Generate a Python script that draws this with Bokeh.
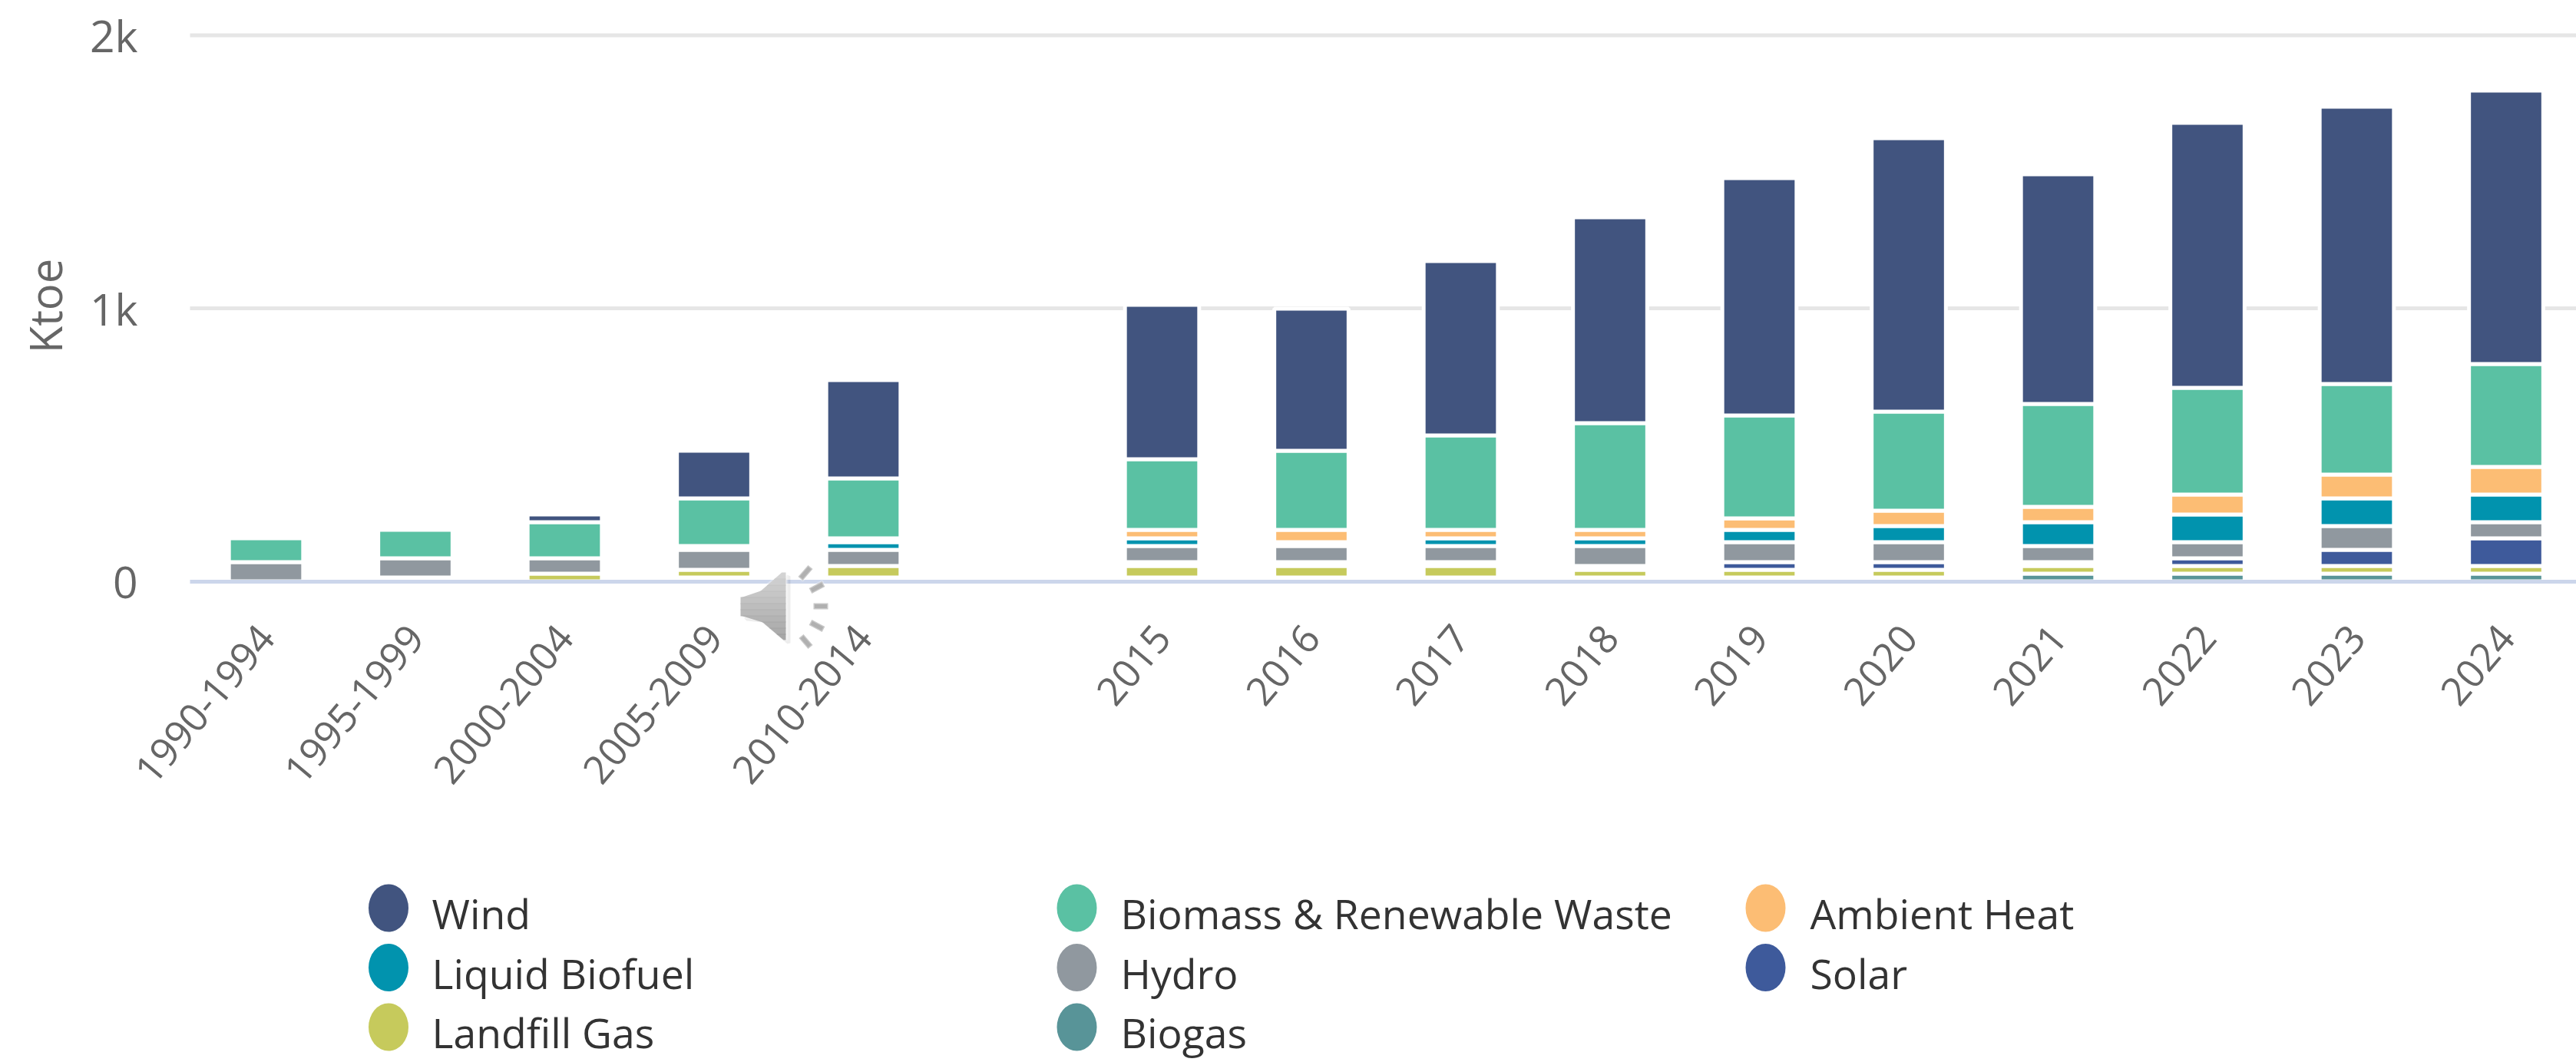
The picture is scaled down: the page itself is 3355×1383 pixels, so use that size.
import math

from bokeh.core.properties import value
from bokeh.embed import file_html
from bokeh.models import ColumnDataSource, FixedTicker, Label, PolyAnnotation, Range1d
from bokeh.plotting import figure
from bokeh.resources import INLINE

# Categories: five multi-year averages, an empty slot, then single years
categories = ["1990-1994", "1995-1999", "2000-2004", "2005-2009", "2010-2014", "",
              "2015", "2016", "2017", "2018", "2019", "2020", "2021", "2022", "2023", "2024"]

# Renewable energy by source, ktoe
wind = [0, 0, 28.1, 174.4, 360.1, 0, 565.4, 520.4, 638.5, 753.9, 869.2, 1001.4, 841.1, 970.5, 1015.5, 1001.4]
biomass = [87.2, 104.1, 132.2, 174.4, 219.4, 0, 258.8, 289.7, 346.0, 391.0, 376.9, 362.9, 376.9, 391.0, 331.9, 376.9]
ambient = [0, 0, 0, 0, 14.1, 0, 30.9, 45.0, 30.9, 30.9, 42.2, 56.3, 56.3, 73.1, 87.2, 101.3]
liquid = [0, 0, 0, 14.1, 28.1, 0, 28.1, 14.1, 28.1, 28.1, 45.0, 59.1, 87.2, 101.3, 101.3, 101.3]
hydro = [70.3, 70.3, 56.3, 73.1, 59.1, 0, 59.1, 59.1, 59.1, 73.1, 73.1, 73.1, 59.1, 59.1, 87.2, 59.1]
solar = [0, 0, 0, 0, 0, 0, 14.1, 14.1, 14.1, 14.1, 28.1, 28.1, 14.1, 28.1, 59.1, 101.3]
landfill = [0, 0, 28.1, 28.1, 42.2, 0, 42.2, 42.2, 42.2, 28.1, 28.1, 28.1, 28.1, 28.1, 28.1, 28.1]
biogas = [0, 14.1, 0, 14.1, 14.1, 0, 14.1, 14.1, 14.1, 14.1, 14.1, 14.1, 28.1, 28.1, 28.1, 28.1]

# Stack order runs from the baseline upward
stack_names = ["Biogas", "Landfill Gas", "Solar", "Hydro", "Liquid Biofuel",
               "Ambient Heat", "Biomass & Renewable Waste", "Wind"]
stack_values = [biogas, landfill, solar, hydro, liquid, ambient, biomass, wind]
colors = {
    "Wind": "#41547F", "Biomass & Renewable Waste": "#5AC1A3", "Ambient Heat": "#FCBD74",
    "Liquid Biofuel": "#0193AE", "Hydro": "#90989F", "Solar": "#3E5A9B",
    "Landfill Gas": "#C6CA5C", "Biogas": "#589498",
}

y_ticks = [0, 1000, 2000]
y_tick_labels = ["0", "1k", "2k"]
legend_rows = [["Wind", "Biomass & Renewable Waste", "Ambient Heat"],
               ["Liquid Biofuel", "Hydro", "Solar"],
               ["Landfill Gas", "Biogas"]]

# Page geometry: the frame fills the canvas, axes are pinned inside it
W, H = 3355, 1383
PX_PER_SLOT = 194.5
FIRST_SLOT_PX = 346
PX_PER_KTOE = 0.3555
ZERO_ROW = 756.5
PLOT_LEFT = 247


def data_x(px):
    return (px - FIRST_SLOT_PX) / PX_PER_SLOT


def data_y(py):
    return (ZERO_ROW - py) / PX_PER_KTOE


p = figure(width=W, height=H, output_backend="svg", toolbar_location=None, min_border=0,
           x_range=Range1d(data_x(0), data_x(W)), y_range=Range1d(data_y(H), data_y(0)))
p.outline_line_color = None
p.background_fill_color = "white"
p.border_fill_color = "white"
p.xgrid.visible = False
p.ygrid.visible = False

# Gridlines start at the plot's left edge, level with the axis
grid_ticks = y_ticks[1:]
p.segment(x0=[data_x(PLOT_LEFT)] * len(grid_ticks), x1=[data_x(W)] * len(grid_ticks),
          y0=grid_ticks, y1=grid_ticks, line_color="#E6E6E6", line_width=5)

# Stacked columns with a white outline that separates the segments
running = [0.0] * len(categories)
for name, series in zip(stack_names, stack_values):
    idx = [i for i, v in enumerate(series) if v > 0]
    src = ColumnDataSource(dict(
        x=idx,
        bottom=[running[i] for i in idx],
        top=[running[i] + series[i] for i in idx],
    ))
    p.vbar(x="x", bottom="bottom", top="top", width=0.497, source=src,
           fill_color=colors[name], line_color="white", line_width=5)
    running = [r + v for r, v in zip(running, series)]

# Axes
xa = p.xaxis[0]
xa.fixed_location = 0
xa.bounds = (data_x(PLOT_LEFT), data_x(W))
xa.ticker = FixedTicker(ticks=[i for i, c in enumerate(categories) if c])
xa.major_label_overrides = {i: c for i, c in enumerate(categories) if c}
xa.major_label_orientation = math.radians(50)
xa.major_label_text_font = "Open Sans"
xa.major_label_text_font_size = "51px"
xa.major_label_text_color = "#666666"
xa.major_label_standoff = 58
xa.axis_line_color = "#CCD6EB"
xa.axis_line_width = 5
xa.major_tick_line_color = None
xa.minor_tick_line_color = None

ya = p.yaxis[0]
ya.fixed_location = data_x(PLOT_LEFT)
ya.ticker = FixedTicker(ticks=y_ticks)
ya.major_label_overrides = dict(zip(y_ticks, y_tick_labels))
ya.major_label_text_font = "Open Sans"
ya.major_label_text_font_size = "57px"
ya.major_label_text_color = "#666666"
ya.major_label_standoff = 62
ya.axis_line_color = None
ya.major_tick_line_color = None
ya.minor_tick_line_color = None

# Rotated unit caption
p.add_layout(Label(x=58, y=H - 398, x_units="screen", y_units="screen", text="Ktoe",
                   angle=math.pi / 2, text_align="center", text_baseline="middle",
                   text_font="Open Sans", text_font_size="58px", text_color="#666666"))


# Loudspeaker badge overlapping the axis
def screen_poly(xs, ys, **style):
    p.add_layout(PolyAnnotation(xs=list(xs), ys=[H - v for v in ys], xs_units="screen", ys_units="screen",
                                level="overlay", **style))


def stroke_quad(x0, y0, x1, y1, half):
    dx, dy = x1 - x0, y1 - y0
    n = math.hypot(dx, dy)
    ox, oy = -dy / n * half, dx / n * half
    return [x0 + ox, x1 + ox, x1 - ox, x0 - ox], [y0 + oy, y1 + oy, y1 - oy, y0 - oy]


speaker_x = [964, 987, 1020, 1024, 1024, 1020, 987, 967, 964]
speaker_y = [775, 772, 743, 745, 832, 833, 805, 803, 800]
screen_poly([v + 5 for v in speaker_x], [v + 5 for v in speaker_y],
            fill_color="black", fill_alpha=0.07, line_color=None)
screen_poly(speaker_x, speaker_y, fill_color="#FFFFFF", fill_alpha=0.6, line_color="white", line_width=4)


def speaker_left(y):
    # Left outline of the cone at a given row
    if y < 772:
        return 987 + (772 - y) * 33 / 29
    if y > 805:
        return 987 + (y - 805) * 33 / 28
    return 964


# Vertical shading of the cone, light at the top and darker toward the bottom
band_rows = list(range(745, 833, 8))
for k, top in enumerate(band_rows):
    bottom = min(top + 9, 833)
    shade = 205 - k * 5
    screen_poly([speaker_left(top), 1023, 1023, speaker_left(bottom)], [top, top, bottom, bottom],
                fill_color=f"#{shade:02x}{shade:02x}{shade:02x}", fill_alpha=0.88, line_color=None)

for seg in [(1042, 753, 1055, 738), (1055, 769, 1072, 760), (1059, 789, 1078, 789),
            (1055, 810, 1072, 819), (1043, 828, 1055, 842)]:
    qx, qy = stroke_quad(*seg, 4)
    screen_poly(qx, qy, fill_color="#ACACAC", fill_alpha=0.95, line_color="white", line_width=3)

# Legend under the plot: three columns of keys
col_key_x = [505.5, 1402, 2299]
col_text_x = [562, 1459, 2357]
row_key_y = [1182, 1259.5, 1337]
row_text_y = [1189, 1267, 1344]

kx, ky, kc, tx, ty, tt = [], [], [], [], [], []
for r, row in enumerate(legend_rows):
    for c, name in enumerate(row):
        kx.append(data_x(col_key_x[c]))
        ky.append(data_y(row_key_y[r]))
        kc.append(colors[name])
        tx.append(data_x(col_text_x[c]))
        ty.append(data_y(row_text_y[r]))
        tt.append(name)
p.ellipse(x=kx, y=ky, width=52, height=62, width_units="screen", height_units="screen",
          fill_color=kc, line_color=None)
p.text(x=tx, y=ty, text=tt, text_font=value("Open Sans"), text_font_size="53.5px",
       text_color="#333333", text_baseline="middle", text_align="left")

open("out.html", "w").write(file_html(p, INLINE))
